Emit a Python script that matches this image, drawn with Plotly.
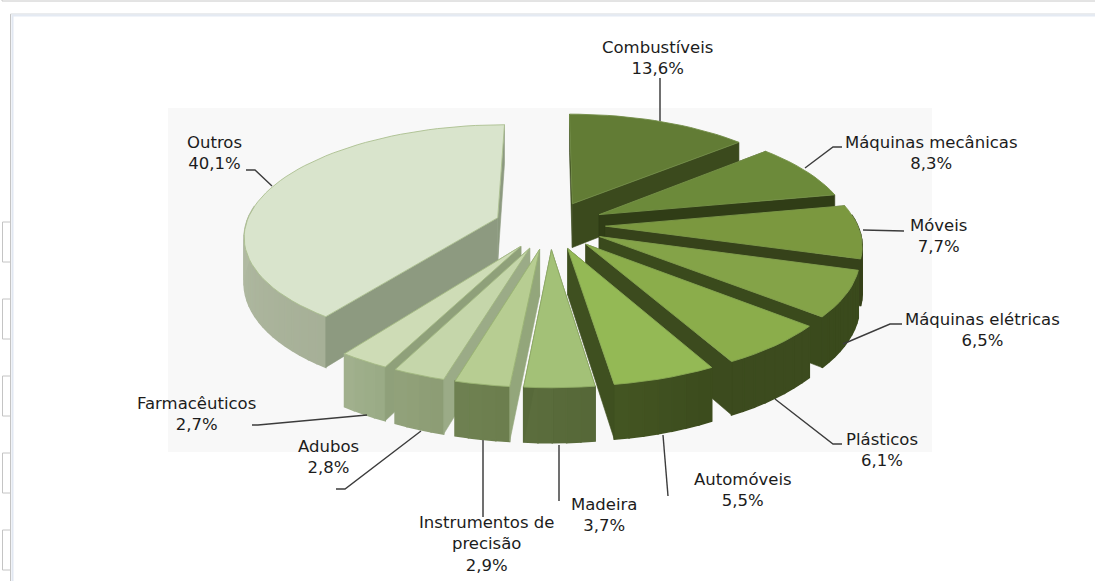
"""Exploded 3D pie of export shares, drawn as projected polygons on a pixel-sized axis."""

import math

import plotly.graph_objects as go

CATEGORIES = [
    "Combustíveis", "Máquinas mecânicas", "Móveis", "Máquinas elétricas", "Plásticos",
    "Automóveis", "Madeira", "Instrumentos de<br>precisão", "Adubos", "Farmacêuticos", "Outros",
]
SHARES = [13.6, 8.3, 7.7, 6.5, 6.1, 5.5, 3.7, 2.9, 2.8, 2.7, 40.1]
SHARE_LABELS = ["13,6%", "8,3%", "7,7%", "6,5%", "6,1%", "5,5%", "3,7%", "2,9%", "2,8%", "2,7%", "40,1%"]

TOP_COLORS = ["#627c35", "#6c8a3a", "#7b983f", "#84a348", "#8bad4b", "#94b955",
              "#a3c177", "#b7cd92", "#c5d6aa", "#cedcb6", "#d9e4cc"]
SIDE_COLORS = ["#3b4a1d", "#303d16", "#36421a", "#3a4a1c", "#3c4b1e", "#3f5020",
               "#57693a", "#93a67b", "#9bab87", "#8fa07a", "#8d9a80"]
# rim colour at the start and at the end of each slice (clockwise)
RIM_START = ["#3b4a1d", "#303d16", "#36421a", "#3a4a1c", "#3c4b1e", "#3c4c1d",
             "#566838", "#6c7e4e", "#8d9d75", "#9aab86", "#a6b097"]
RIM_END = ["#3b4a1d", "#303d16", "#36421a", "#3a4a1c", "#3c4b1e", "#445623",
           "#5c6e3e", "#6f8152", "#92a27b", "#a3b28f", "#c4ccb6"]

# label centre and leader path, in page pixels
LABEL_X = [657, 931, 938, 982, 882, 743, 604, 486, 328, 196, 214]
LABEL_Y = [58, 153, 236, 330, 450, 490, 515, 544, 457, 414, 153]
LEADERS = [
    [(660, 78), (660, 121)],
    [(842, 147), (833, 147), (805, 168)],
    [(904, 231), (863, 230)],
    [(902, 324), (890, 324), (843, 344)],
    [(842, 444), (833, 444), (775, 399)],
    [(668, 496), (663, 435)],
    [(559, 501), (559, 445)],
    [(483, 517), (483, 440)],
    [(336, 489), (345, 489), (421, 431)],
    [(252, 425), (258, 425), (367, 415)],
    [(246, 170), (255, 170), (272, 186)],
]
GRAY_LEADERS = {0, 6, 7}

WIDTH, HEIGHT = 1095, 581
CENTER_X, CENTER_Y = 550, 225
RADIUS_X, RADIUS_Y = 252, 109
PERSPECTIVE = 0.15
PULL = 0.22
DEPTH = 45
FONT = "DejaVu Sans, Verdana, sans-serif"


def project(x, y, drop=0.0):
    """Disk coordinates (radius 1, y pointing away from the viewer) to page pixels."""
    p = 1 / (1 + PERSPECTIVE * y)
    return CENTER_X + RADIUS_X * x * p, CENTER_Y - RADIUS_Y * y * p + drop * p


def mix(a, b, t):
    ca = [int(a[i:i + 2], 16) for i in (1, 3, 5)]
    cb = [int(b[i:i + 2], 16) for i in (1, 3, 5)]
    return "#" + "".join(f"{round(u + (v - u) * t):02x}" for u, v in zip(ca, cb))


def polygon(fig, points, fill, line_color=None, line_width=0.6):
    fig.add_trace(go.Scatter(
        x=[p[0] for p in points] + [points[0][0]],
        y=[p[1] for p in points] + [points[0][1]],
        mode="lines", fill="toself", fillcolor=fill,
        line=dict(color=line_color or fill, width=line_width),
        hoverinfo="skip", showlegend=False,
    ))


def draw_slice(fig, i, start, end):
    mid = (start + end) / 2
    ox, oy = PULL * math.sin(mid), PULL * math.cos(mid)
    steps = max(4, int((end - start) / math.radians(2.5)))
    angles = [start + (end - start) * s / steps for s in range(steps + 1)]
    disk = [(ox + math.sin(a), oy + math.cos(a)) for a in angles]

    def wall(a, b):
        return [project(*a), project(*b), project(*b, DEPTH), project(*a, DEPTH)]

    start_wall = wall((ox, oy), disk[0])
    end_wall = wall((ox, oy), disk[-1])
    # the wall on the far side goes first, so the one facing us covers it
    hidden, visible = (start_wall, end_wall) if mid < math.pi else (end_wall, start_wall)
    polygon(fig, hidden, SIDE_COLORS[i])
    for s in range(steps):
        if math.cos((angles[s] + angles[s + 1]) / 2) < 0.1:
            # a wider stroke closes the hairline seams between the rim segments
            polygon(fig, wall(disk[s], disk[s + 1]), mix(RIM_START[i], RIM_END[i], s / steps), line_width=1.5)
    polygon(fig, visible, SIDE_COLORS[i])
    top = [project(ox, oy)] + [project(*d) for d in disk]
    polygon(fig, top, TOP_COLORS[i], mix(TOP_COLORS[i], "#7f9a55", 0.5), 0.9)


fig = go.Figure()

edges = [0.0]
for share in SHARES:
    edges.append(edges[-1] + share / sum(SHARES) * 2 * math.pi)
mids = [(edges[i] + edges[i + 1]) / 2 for i in range(len(SHARES))]

# back to front
for i in sorted(range(len(SHARES)), key=lambda k: -math.cos(mids[k])):
    draw_slice(fig, i, edges[i], edges[i + 1])

for i, path in enumerate(LEADERS):
    gray = i in GRAY_LEADERS
    fig.add_trace(go.Scatter(
        x=[p[0] for p in path], y=[p[1] for p in path], mode="lines",
        line=dict(color="#707070" if gray else "#3c3c3c", width=2 if gray else 1.4),
        hoverinfo="skip", showlegend=False,
    ))

for name, share, x, y in zip(CATEGORIES, SHARE_LABELS, LABEL_X, LABEL_Y):
    fig.add_annotation(
        x=x, y=y, text=f"{name}<br>{share}", showarrow=False, align="center",
        xanchor="center", yanchor="middle", font=dict(family=FONT, size=16.5, color="#1c1c1c"),
    )

page_lines = [
    dict(x0=2, x1=WIDTH, y0=1, y1=1, color="#c8c8c8", width=1),
    dict(x0=2, x1=2, y0=0, y1=1, color="#c8c8c8", width=1),
    dict(x0=10.5, x1=10.5, y0=14, y1=HEIGHT, color="#c4c4c4", width=1),
    dict(x0=10.5, x1=WIDTH, y0=14, y1=14, color="#d4d8dc", width=1),
    dict(x0=12.5, x1=12.5, y0=15, y1=HEIGHT, color="#e2e8f2", width=2),
    dict(x0=12, x1=WIDTH, y0=15.5, y1=15.5, color="#e4eaf3", width=2),
]
for y0, y1 in [(222, 262), (299, 339), (376, 416), (453, 493), (530, 570)]:
    page_lines += [
        dict(x0=2.5, x1=10, y0=y0, y1=y0, color="#c4c4c4", width=1),
        dict(x0=2.5, x1=10, y0=y1, y1=y1, color="#c4c4c4", width=1),
        dict(x0=2.5, x1=2.5, y0=y0, y1=y1, color="#c4c4c4", width=1),
    ]

shapes = [dict(type="rect", x0=168, x1=932, y0=108, y1=452, fillcolor="#f8f8f8",
               line_width=0, layer="below")]
for ln in page_lines:
    shapes.append(dict(type="line", x0=ln["x0"], x1=ln["x1"], y0=ln["y0"], y1=ln["y1"],
                       line=dict(color=ln["color"], width=ln["width"]), layer="below"))

fig.update_layout(
    width=WIDTH, height=HEIGHT, margin=dict(l=0, r=0, t=0, b=0),
    paper_bgcolor="#ffffff", plot_bgcolor="#ffffff", shapes=shapes, showlegend=False,
)
fig.update_xaxes(range=[0, WIDTH], visible=False, fixedrange=True)
fig.update_yaxes(range=[HEIGHT, 0], visible=False, fixedrange=True)

fig.write_html(
    "out.html",
    config=dict(displayModeBar=False),
    post_script="document.body.style.margin='0';document.body.style.overflow='hidden';",
)
